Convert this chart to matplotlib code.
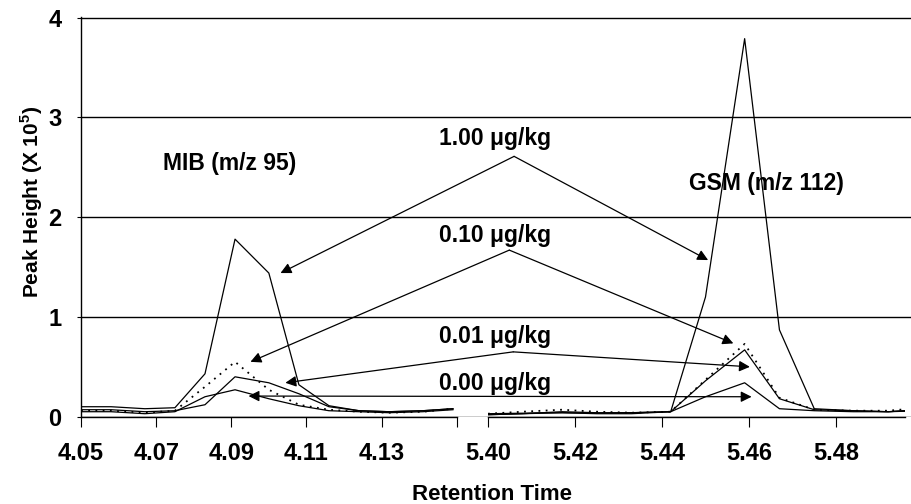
import numpy as np
import matplotlib
matplotlib.use("Agg")
import matplotlib.pyplot as plt

plt.rcParams['font.family'] = ['Liberation Sans', 'DejaVu Sans']
plt.rcParams['font.weight'] = 'bold'
plt.rcParams['mathtext.fontset'] = 'custom'
plt.rcParams['mathtext.bf'] = 'Liberation Sans:bold'
plt.rcParams['mathtext.rm'] = 'Liberation Sans:bold'

# retention times (min)
t_mib = [4.050, 4.058, 4.067, 4.075, 4.083, 4.091, 4.100, 4.108, 4.116, 4.124, 4.132, 4.141, 4.149]
t_gsm = [5.400, 5.408, 5.417, 5.425, 5.433, 5.442, 5.450, 5.459, 5.467, 5.475, 5.484, 5.492, 5.500]

# peak heights (x 10^5)
mib_100 = [0.10, 0.10, 0.08, 0.09, 0.43, 1.78, 1.44, 0.32, 0.11, 0.06, 0.05, 0.06, 0.08]
mib_010 = [0.06, 0.06, 0.04, 0.06, 0.30, 0.55, 0.27, 0.12, 0.07, 0.05, 0.04, 0.05, 0.08]
mib_001 = [0.07, 0.07, 0.05, 0.06, 0.12, 0.40, 0.34, 0.23, 0.10, 0.06, 0.05, 0.06, 0.08]
mib_000 = [0.05, 0.05, 0.03, 0.05, 0.20, 0.27, 0.18, 0.11, 0.06, 0.05, 0.04, 0.05, 0.07]

gsm_100 = [0.03, 0.035, 0.04, 0.035, 0.04, 0.05, 1.20, 3.79, 0.87, 0.08, 0.06, 0.05, 0.07]
gsm_010 = [0.03, 0.05, 0.07, 0.05, 0.04, 0.05, 0.37, 0.73, 0.19, 0.07, 0.06, 0.06, 0.09]
gsm_001 = [0.02, 0.03, 0.05, 0.04, 0.04, 0.05, 0.36, 0.67, 0.18, 0.07, 0.06, 0.05, 0.07]
gsm_000 = [0.02, 0.03, 0.04, 0.03, 0.03, 0.05, 0.20, 0.34, 0.08, 0.06, 0.05, 0.05, 0.06]

left_ticks = [4.05, 4.07, 4.09, 4.11, 4.13, 4.15]
left_labels = ['4.05', '4.07', '4.09', '4.11', '4.13', '']
right_ticks = [5.40, 5.42, 5.44, 5.46, 5.48]
right_labels = ['5.40', '5.42', '5.44', '5.46', '5.48']

W, H = 912, 504
fig = plt.figure(figsize=(W / 100, H / 100), dpi=100)

y0, y1 = 416.7, 17.3
bot = 1 - y0 / H
hgt = (y0 - y1) / H

# background axes: y axis + gridlines across the break
ax_bg = fig.add_axes([81 / W, bot, 1 - 81 / W, hgt])
ax_bg.set_ylim(0, 4.004)
ax_bg.set_xlim(0, 1)
ax_bg.set_yticks([0, 1, 2, 3, 4])
ax_bg.set_xticks([])
ax_bg.grid(axis='y', color='black', lw=1.0)
for s in ['top', 'right', 'bottom']:
    ax_bg.spines[s].set_visible(False)
ax_bg.spines['left'].set_linewidth(1.0)
ax_bg.tick_params(axis='y', length=3, pad=11, labelsize=17)
ax_bg.set_ylabel(r'Peak Height (X 10$^{\mathbf{5}}$)', fontsize=15, fontweight='bold')
ax_bg.yaxis.label.set_va('center')
ax_bg.yaxis.set_label_coords((32 - 81) / (W - 81), (y0 - 202) / (y0 - y1))

ax_l = fig.add_axes([81 / W, bot, (456.7 - 81) / W, hgt], facecolor='none')
ax_r = fig.add_axes([488 / W, bot, (905 - 488) / W, hgt], facecolor='none')
ax_l.set_xlim(4.05, 4.15)
ax_r.set_xlim(5.40, 5.40 + (905 - 488) / 87 * 0.02)

for ax in (ax_l, ax_r):
    ax.set_ylim(0, 4.004)
    ax.set_yticks([])
    for s in ['top', 'right', 'left']:
        ax.spines[s].set_visible(False)
    ax.spines['bottom'].set_linewidth(1.0)
    ax.tick_params(axis='x', length=7, pad=11, labelsize=17)

ax_l.set_xticks(left_ticks, left_labels)
ax_r.set_xticks(right_ticks, right_labels)

lw = 0.9
ax_l.plot(t_mib, mib_100, color='black', lw=lw)
ax_l.plot(t_mib, mib_010, color='black', lw=1.3, ls=(0, (1, 3)))
ax_l.plot(t_mib, mib_001, color='black', lw=lw)
ax_l.plot(t_mib, mib_000, color='black', lw=lw)
ax_r.plot(t_gsm, gsm_100, color='black', lw=lw)
ax_r.plot(t_gsm, gsm_010, color='black', lw=1.3, ls=(0, (1, 3)))
ax_r.plot(t_gsm, gsm_001, color='black', lw=lw)
ax_r.plot(t_gsm, gsm_000, color='black', lw=lw)

fs = 16.5
ax_l.text(4.0895, 2.54, 'MIB (m/z 95)', ha='center', va='center', fontsize=fs, fontweight='bold')
ax_r.text(5.4641, 2.34, 'GSM (m/z 112)', ha='center', va='center', fontsize=fs, fontweight='bold')

lab_x = 5.4016
ax_r.text(lab_x, 2.79, '1.00 μg/kg', ha='center', va='center', fontsize=fs, fontweight='bold')
ax_r.text(lab_x, 1.82, '0.10 μg/kg', ha='center', va='center', fontsize=fs, fontweight='bold')
ax_r.text(lab_x, 0.80, '0.01 μg/kg', ha='center', va='center', fontsize=fs, fontweight='bold')
ax_r.text(lab_x, 0.335, '0.00 μg/kg', ha='center', va='center', fontsize=fs, fontweight='bold')

aprops = dict(arrowstyle='-|>', color='black', lw=0.9, mutation_scale=16,
              shrinkA=0, shrinkB=0)

# (apex_x, apex_y, left target, right target)
arrows = [
    (5.4060, 2.61, (4.1031, 1.44), (5.4506, 1.57)),
    (5.4049, 1.67, (4.0951, 0.55), (5.4564, 0.735)),
    (5.4058, 0.65, (4.1044, 0.34), (5.4602, 0.50)),
]
for ax_, ay, lt, rt in arrows:
    ax_r.annotate('', xy=lt, xycoords=ax_l.transData, xytext=(ax_, ay),
                  textcoords=ax_r.transData, arrowprops=aprops, annotation_clip=False)
    ax_r.annotate('', xy=rt, xycoords=ax_r.transData, xytext=(ax_, ay),
                  textcoords=ax_r.transData, arrowprops=aprops, annotation_clip=False)

ax_r.annotate('', xy=(5.4606, 0.20), xycoords=ax_r.transData, xytext=(4.0946, 0.207),
              textcoords=ax_l.transData,
              arrowprops=dict(arrowstyle='<|-|>', color='black', lw=0.9, mutation_scale=16,
                              shrinkA=0, shrinkB=0), annotation_clip=False)

fig.text(492 / W, 1 - 494 / H, 'Retention Time', ha='center', va='center',
         fontsize=16, fontweight='bold')

fig.savefig('out.png', dpi=100)
